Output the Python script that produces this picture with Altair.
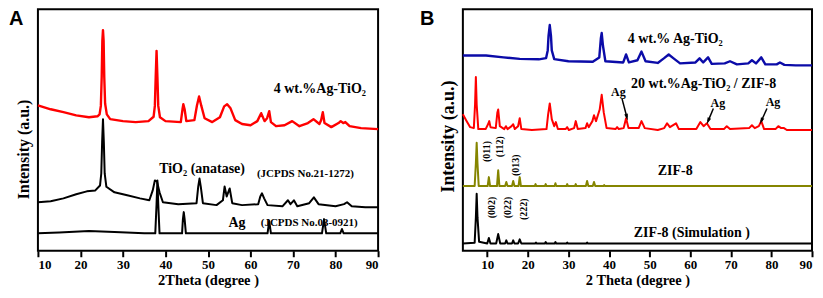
import math
import altair as alt
import pandas as pd

# ---------------- Panel A data (2-theta in degrees, intensity in a.u.) ----------------
A_AGTIO2 = [(10, 60.2), (13, 58.6), (16, 57.4), (19, 56.1), (22, 55.3), (24.0, 55.7), (24.5, 56.5),
            (24.8, 60.0), (25.0, 72.0), (25.15, 87.0), (25.3, 91.4), (25.45, 87.0), (25.6, 72.0), (25.8, 61.0),
            (26.2, 56.5), (27, 54.5), (30, 53.7), (33, 53.3),
            (36, 53.7), (37.2, 55.5), (37.5, 60.0), (37.7, 72.0), (37.9, 82.8), (38.1, 72.0), (38.3, 60.0),
            (38.7, 55.3), (40, 53.7),
            (43.6, 53.3), (44.0, 58.6), (44.2, 60.7), (44.5, 58.6), (44.9, 53.7), (46.8, 54.1), (47.4, 60.2),
            (47.9, 63.9), (48.4, 60.2), (49.2, 54.9), (51, 53.3), (52.8, 55.3), (53.8, 59.8), (54.5, 60.7),
            (55.3, 59.0), (56.4, 54.1), (58, 52.5), (60, 52.0), (61.6, 53.7), (62.5, 57.0), (63.3, 53.7),
            (63.9, 54.9), (64.4, 57.8), (64.8, 53.3), (66, 51.6), (68, 52.0), (69.8, 53.7), (71.5, 51.6),
            (73.5, 52.9), (74.8, 54.5), (76.2, 52.5), (76.6, 54.1), (77.0, 57.4), (77.4, 52.9), (79, 51.2),
            (80.7, 52.9), (81.2, 53.7), (81.8, 52.9), (82.3, 53.3), (83.3, 51.6), (86, 50.8), (90, 50.4)]

A_TIO2 = [(10, 20.1), (13, 20.5), (16, 21.7), (19, 23.4), (21.5, 24.6), (23.5, 25.0), (24.6, 27.0),
          (24.9, 32.0), (25.1, 45.0), (25.3, 54.5), (25.5, 45.0), (25.7, 32.0), (26.1, 26.5), (28, 24.2),
          (31, 23.0), (34, 21.7),
          (36.2, 20.9), (37.0, 25.0), (37.5, 29.1), (38.0, 28.7), (38.6, 24.2), (39.4, 20.1), (43, 19.3),
          (47.3, 19.7), (47.7, 26.6), (48.0, 29.9), (48.3, 26.6), (48.8, 19.7), (52, 18.9), (53.5, 20.9),
          (53.9, 26.6), (54.4, 22.5), (55.1, 25.8), (55.7, 19.7), (58, 18.9), (61.8, 19.3), (62.3, 22.5),
          (62.7, 23.8), (63.2, 21.7), (64.0, 18.9), (67.5, 18.4), (68.8, 20.9), (69.4, 19.3), (70.2, 20.9),
          (71, 18.4), (73.8, 19.7), (74.9, 22.1), (76, 19.3), (80, 18.4), (82.0, 19.3), (82.7, 20.1),
          (83.8, 18.4), (87, 18.0), (90, 18.0)]

A_AG = [(10, 7.2), (15, 7.6), (22, 8.2), (28, 7.8), (35, 7.2), (37.6, 7.2), (37.9, 19.3), (38.1, 29.1),
        (38.3, 19.3), (38.6, 7.2), (43.9, 7.2), (44.1, 13.1), (44.3, 16.0), (44.5, 13.1), (44.8, 7.2),
        (64.0, 7.2), (64.4, 12.3), (64.8, 7.2), (76.8, 7.2), (77.3, 13.1), (77.8, 7.2), (81.1, 7.2),
        (81.5, 9.0), (81.9, 7.2), (90, 7.2)]

A_LABELS_BIG = [(76.3, 67.2, "4 wt.%Ag-TiO₂"), (48.6, 34.0, "TiO₂ (anatase)"), (56.8, 11.5, "Ag")]
A_LABELS_SMALL = [(72.9, 31.6, "(JCPDS No.21-1272)"), (73.8, 11.5, "(JCPDS No.03-0921)")]

# ---------------- Panel B data ----------------
B_AGTIO2 = [(4, 80.9), (9.7, 80.9), (14, 80.1), (18, 79.5), (22.7, 79.3), (24.5, 79.8), (24.9, 83.0),
            (25.1, 89.0), (25.4, 93.5), (25.7, 89.0), (25.9, 83.0), (26.5, 79.4), (30, 78.5), (36, 78.3),
            (37.6, 80.1), (38.0, 88.2),
            (38.2, 90.2), (38.5, 85.0), (39.1, 78.5), (43.5, 78.0), (44.2, 81.3), (44.9, 78.0), (47.0, 78.9),
            (48.0, 82.5), (49.0, 78.5), (52, 77.8), (53.5, 79.7), (54.7, 81.3), (55.9, 79.7), (57.5, 77.6),
            (61.3, 78.0), (62.3, 79.7), (63.2, 78.0), (64.4, 80.1), (65.3, 77.4), (68.5, 77.6), (69.8, 78.5),
            (71.5, 77.2), (74.3, 77.6), (75.2, 78.9), (76.2, 77.6), (77.5, 80.1), (78.5, 77.2), (81.3, 77.2),
            (82.1, 78.0), (83.2, 77.0), (86, 76.8), (90, 76.8)]

B_COMPOSITE = [(4.0, 56.5), (4.8, 54.1), (5.8, 51.2), (6.7, 50.8), (7.0, 60.6), (7.2, 72.0), (7.4, 60.6),
               (7.8, 50.4), (9.6, 50.4), (10.2, 52.4), (10.5, 53.7), (10.8, 51.2), (12.1, 50.8), (12.5, 57.3),
               (12.7, 58.5), (13.1, 51.6), (14.2, 50.4), (14.6, 51.6), (15.0, 50.4), (16.0, 51.6), (16.4, 52.4),
               (16.8, 50.4), (17.6, 51.6), (18.0, 54.9), (18.4, 50.4), (21, 50.0), (24.6, 50.4), (25.0, 56.5),
               (25.4, 61.0), (25.9, 54.5), (26.5, 51.6), (26.9, 53.3), (27.4, 50.4), (29.3, 50.4), (29.7, 51.2),
               (30.1, 50.0), (31.4, 50.8), (31.8, 53.7), (32.3, 50.4), (34.2, 50.8), (34.6, 52.8), (35.0, 51.2),
               (35.9, 53.7), (36.3, 56.1), (36.8, 53.7), (37.7, 58.5), (38.2, 64.6), (38.7, 57.3), (39.4, 50.8),
               (41.6, 50.4), (42.0, 51.2), (42.4, 50.4), (43.6, 50.8), (44.2, 54.9), (44.8, 50.8), (47.3, 50.8),
               (48.0, 53.7), (48.8, 50.8), (52, 50.0), (53.6, 50.8), (54.3, 52.8), (55.0, 51.2), (56.5, 52.8),
               (57.2, 50.4), (61.5, 50.4), (62.5, 53.3), (63.3, 51.6), (64.1, 52.8), (65.0, 50.4), (68.3, 50.4),
               (69.0, 51.6), (69.8, 50.4), (74.5, 50.8), (75.2, 52.0), (75.9, 50.8), (76.9, 51.6), (77.5, 53.7),
               (78.2, 50.4), (81.0, 50.4), (81.7, 51.6), (82.4, 50.8), (83.1, 50.8), (83.8, 50.0), (90, 50.0)]

B_ZIF8 = [(4, 26.8), (6.9, 26.8), (7.2, 36.2), (7.4, 44.7), (7.6, 36.2), (7.9, 26.8), (10.1, 26.8),
          (10.4, 30.5), (10.7, 26.8), (12.4, 26.8), (12.7, 33.3), (13.0, 26.8), (14.4, 26.8), (14.7, 28.5),
          (15.0, 26.8), (16.1, 26.8), (16.4, 28.9), (16.7, 26.8), (17.7, 26.8), (18.0, 30.5), (18.3, 26.8),
          (21.7, 26.8), (21.9, 27.6), (22.1, 26.8), (24.2, 26.8), (24.4, 27.6), (24.6, 26.8), (26.6, 26.8),
          (26.8, 28.0), (27.0, 26.8), (29.5, 26.8), (29.7, 27.6), (29.9, 26.8), (31.6, 26.8), (31.8, 27.6),
          (32.0, 26.8), (34.3, 26.8), (34.6, 28.9), (34.9, 26.8), (36.0, 26.8), (36.3, 28.5), (36.6, 26.8),
          (38.6, 26.8), (38.8, 27.2), (39.0, 26.8), (90, 26.8)]

B_SIM = [(4, 3.0), (6.9, 3.3), (7.2, 13.8), (7.4, 23.6), (7.6, 13.8), (8.0, 3.7), (10.0, 3.0), (10.4, 5.3),
         (10.8, 3.0), (12.2, 3.0), (12.7, 6.9), (13.2, 3.0), (14.4, 3.0), (14.7, 4.3), (15.0, 3.0),
         (16.1, 3.0), (16.4, 4.3), (16.7, 3.0), (17.6, 3.0), (18.0, 4.7), (18.4, 3.0), (21.8, 3.0),
         (22.0, 3.4), (22.2, 3.0), (24.2, 3.0), (24.4, 3.6), (24.6, 3.0), (26.6, 3.0), (26.8, 3.6),
         (27.0, 3.0), (29.5, 3.0), (29.7, 3.4), (29.9, 3.0), (34.4, 3.0), (34.6, 3.4), (34.8, 3.0), (90, 3.0)]

B_LABELS_BIG = [(56.3, 87.8, "4 wt.% Ag-TiO₂"), (63.3, 69.1, "20 wt.%Ag-TiO₂ / ZIF-8"),
                (56.3, 32.9, "ZIF-8"), (60.4, 7.3, "ZIF-8 (Simulation )")]
B_AG_LABELS = [(42.3, 65.9, "Ag"), (66.8, 61.4, "Ag"), (80.4, 61.8, "Ag")]
# arrows: start (theta, intensity) -> tip (theta, intensity)
B_ARROWS = [(43.2, 63.0, 44.4, 55.3), (65.7, 58.9, 64.4, 53.7), (78.9, 58.9, 77.5, 53.7)]
B_HKL = [(9.9, 41.1, "(011)"), (13.2, 43.1, "(112)"), (17.0, 35.4, "(013)"),
         (11.1, 17.9, "(002)"), (15.0, 17.9, "(022)"), (19.1, 17.2, "(222)")]

TICKS = [10, 20, 30, 40, 50, 60, 70, 80, 90]
SERIF = "Liberation Serif"
SANS = "Liberation Sans"

A_W, B_W, H = 341, 350, 242


def pts_df(pts):
    return pd.DataFrame(pts, columns=["theta", "intensity"])


def lbl_df(lbls):
    return pd.DataFrame(lbls, columns=["theta", "intensity", "label"])


def make_panel(xdom, width, xtitle, ytitle_size, ytitle_y, curves, letter, letter_x, extras):
    xs = alt.Scale(domain=xdom, nice=False, zero=False)
    ys = alt.Scale(domain=[0, 100], nice=False, zero=False)
    xaxis = alt.Axis(values=TICKS, title=xtitle, domain=False, grid=False, tickColor="black",
                     tickWidth=2, tickSize=6, labelFont=SERIF, labelFontSize=13, labelFontWeight="bold",
                     labelColor="black", labelPadding=2, titleFont=SERIF, titleFontSize=14.5,
                     titleFontWeight="bold", titleColor="black", titlePadding=2)
    yaxis = alt.Axis(title="Intensity (a.u.)", labels=False, ticks=False, domain=False, grid=False,
                     titleFont=SERIF, titleFontSize=ytitle_size, titleFontWeight="bold", titleColor="black",
                     titleX=-14, titleY=ytitle_y, titleBaseline="middle")

    def X(field="theta"):
        return alt.X(f"{field}:Q", scale=xs, axis=xaxis)

    def Y(field="intensity"):
        return alt.Y(f"{field}:Q", scale=ys, axis=yaxis)

    layers = []
    for pts, color, sw in curves:
        layers.append(alt.Chart(pts_df(pts)).mark_line(color=color, strokeWidth=sw, strokeJoin="round")
                      .encode(x=X(), y=Y()))
    for kind, df_, opts in extras:
        if kind == "text":
            kw = dict(font=SERIF, fontWeight="bold", fontSize=opts["size"], align="center",
                      baseline="middle", color="black")
            if opts.get("angle"):
                kw["angle"] = opts["angle"]
            layers.append(alt.Chart(df_).mark_text(**kw).encode(x=X(), y=Y(), text="label:N"))
        elif kind == "rule":
            layers.append(alt.Chart(df_).mark_rule(color="black", strokeWidth=1.5).encode(
                x=X(), y=Y(), x2="theta2:Q", y2="intensity2:Q"))
        elif kind == "head":
            layers.append(alt.Chart(df_).mark_point(shape="M0,-1L0.55,1L-0.55,1Z", filled=True, opacity=1,
                                                    color="black", size=45).encode(
                x=X("theta2"), y=Y("intensity2"), angle=alt.Angle("ang:Q", scale=None)))
    layers.append(alt.Chart(pd.DataFrame({"label": [letter]})).mark_text(
        font=SANS, fontWeight="bold", fontSize=20, align="left", baseline="top", color="black")
        .encode(x=alt.value(letter_x), y=alt.value(0), text="label:N"))
    return alt.layer(*layers).properties(width=width, height=H)


arrows = pd.DataFrame(B_ARROWS, columns=["theta", "intensity", "theta2", "intensity2"])
sx = B_W / (90 - 4)
sy = H / 100
arrows["ang"] = [
    math.degrees(math.atan2((t2 - t1) * sx, (i2 - i1) * sy)) % 360
    for t1, i1, t2, i2 in B_ARROWS
]

panelA = make_panel(
    [10, 90], A_W, "2Theta (degree )", 16, 140,
    [(A_AGTIO2, "#ff0000", 2.4), (A_TIO2, "black", 2), (A_AG, "black", 2)],
    "A", -29,
    [("text", lbl_df(A_LABELS_BIG), {"size": 14}), ("text", lbl_df(A_LABELS_SMALL), {"size": 11})],
)

panelB = make_panel(
    [4, 90], B_W, "2 Theta (degree )", 18, 127,
    [(B_AGTIO2, "#0b0ba8", 2.4), (B_COMPOSITE, "#ff0000", 2), (B_ZIF8, "#858500", 2), (B_SIM, "black", 2)],
    "B", -43,
    [("text", lbl_df(B_LABELS_BIG), {"size": 14}), ("text", lbl_df(B_AG_LABELS), {"size": 12}),
     ("text", lbl_df(B_HKL), {"size": 10, "angle": 270}), ("rule", arrows, {}), ("head", arrows, {})],
)

chart = alt.hconcat(panelA, panelB, spacing=38).properties(padding=0).configure_view(
    stroke="black", strokeWidth=2)

chart.save("out.html", embed_options={"renderer": "svg", "actions": False})
